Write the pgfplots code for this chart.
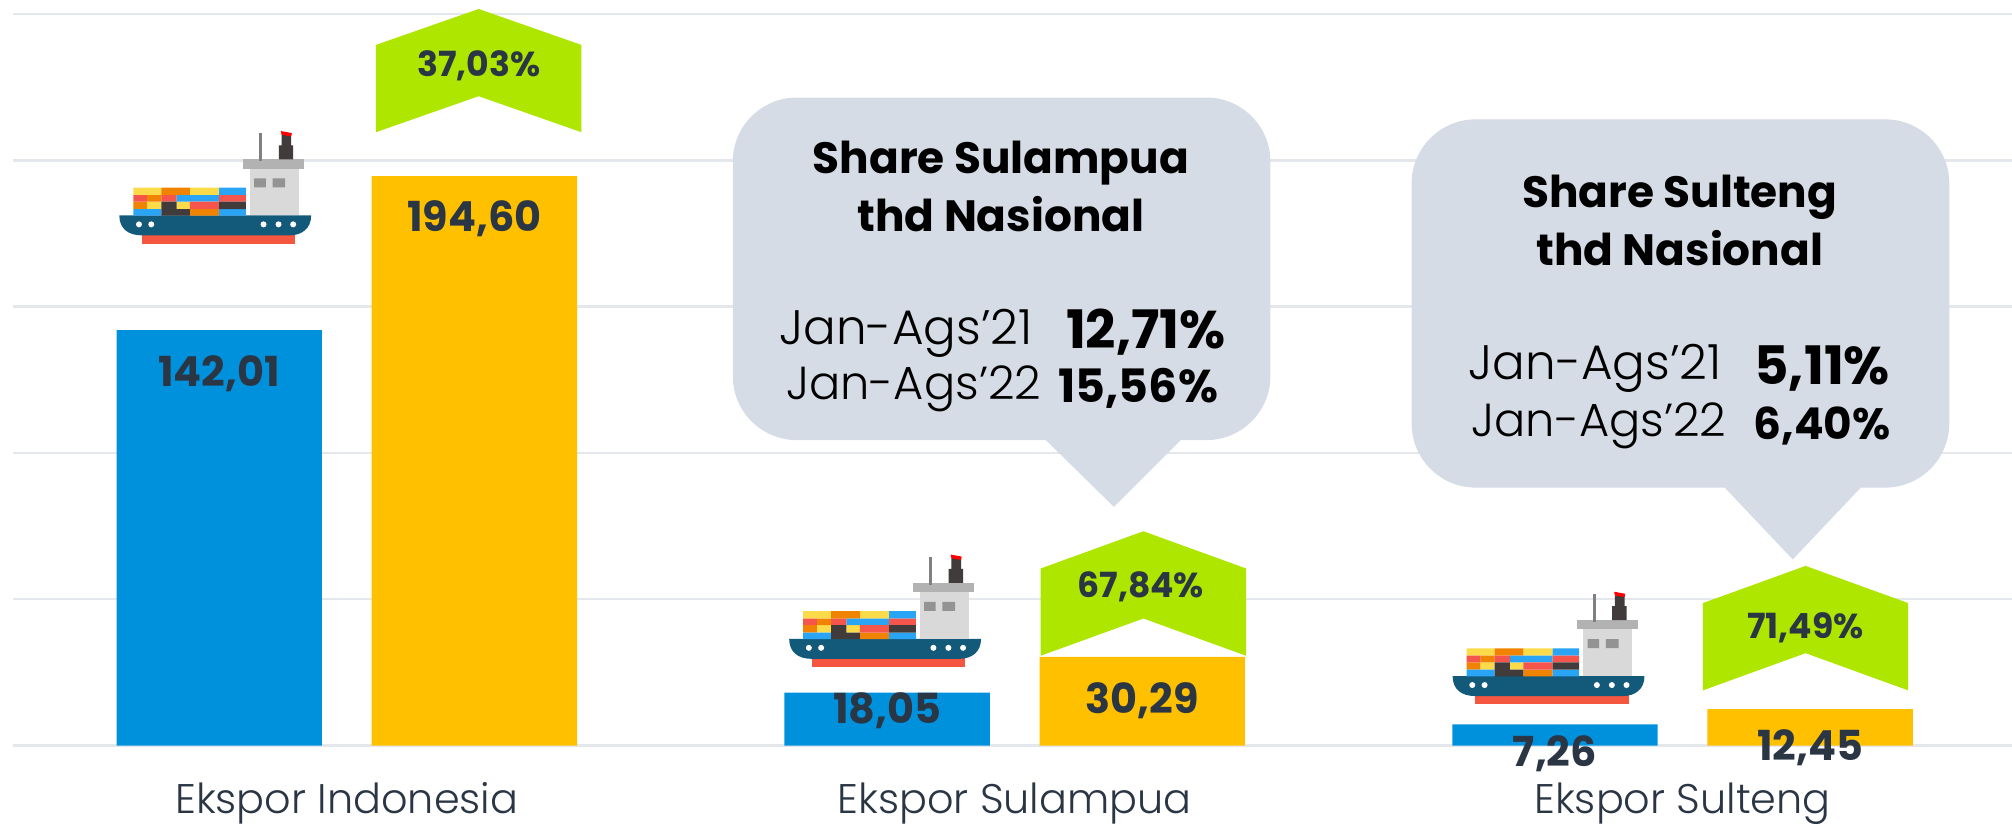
\documentclass[border=0pt]{standalone}
\usepackage{pgfplots}
\usepackage{pgfplotstable}
\usepackage{fontspec}
\setmainfont{Poppins}[UprightFont=* Light,BoldFont=* Bold]
\pgfplotsset{compat=1.18}
\definecolor{barblue}{HTML}{0091DD}
\definecolor{baryel}{HTML}{FFC000}
\definecolor{lime}{HTML}{AEE600}
\definecolor{callout}{HTML}{D6DCE5}
\definecolor{gridc}{HTML}{E4E7EC}
\definecolor{txt}{HTML}{2B3645}
\definecolor{hull}{HTML}{135A7A}
\definecolor{keel}{HTML}{F4563F}
\definecolor{cyel}{HTML}{FBDB4A}
\definecolor{corg}{HTML}{F08300}
\definecolor{cblu}{HTML}{2AA5F5}
\definecolor{cred}{HTML}{F5554A}
\definecolor{cdrk}{HTML}{413B3B}

\pgfplotstableread{
x y lab dy
0 142.01 142,01 -34
1 18.05 18,05 -14
2 7.26 7,26 -23
}\blueT
\pgfplotstableread{
x y lab dy
0 194.60 194,60 -33
1 30.29 30,29 -34
2 12.45 12,45 -30
}\yelT

\tikzset{px/.style={x=0.012755cm,y=-0.012755cm,yshift=8.2015cm}}

% ship drawn in its own units (y down), placed by hull left / keel bottom
\newcommand{\ship}[1]{%
\begin{scope}[shift={(#1)},x=0.003314cm,y=-0.003314cm,xshift=-0.391cm,yshift=1.425cm]
\fill[keel] (185,400) rectangle (646,430);
\fill[hull] (118,345) -- (694,345) .. controls (694,385) and (665,405) .. (630,405) -- (185,405) .. controls (145,405) and (118,385) .. (118,345) -- cycle;
\foreach \p in {177,214,551,596,640} \fill[white] (\p,372) circle (9);
\fill[gray!30] (510,205) rectangle (657,345);
\fill[gray!60] (490,177) rectangle (673,205);
\fill[gray!85] (523,234) rectangle (558,261) (578,234) rectangle (616,261);
\fill[gray] (538,98) rectangle (547,182);
\fill[cdrk] (597,135) rectangle (640,177) (605,103) rectangle (634,135);
\fill[red] (603,92) -- (636,98) -- (634,108) -- (605,103) -- cycle;
\fill[cyel] (160,262) rectangle (244,284) (330,262) rectangle (418,284) (201,304) rectangle (244,326) (290,304) rectangle (330,326);
\fill[corg] (244,262) rectangle (330,284) (201,284) rectangle (244,304) (160,304) rectangle (201,326) (330,326) rectangle (418,346);
\fill[cblu] (418,262) rectangle (498,284) (290,284) rectangle (418,304) (160,326) rectangle (244,346) (418,326) rectangle (498,346);
\fill[cred] (160,284) rectangle (201,304) (244,284) rectangle (290,304) (418,284) rectangle (498,304) (330,304) rectangle (418,326);
\fill[cdrk] (244,304) rectangle (290,326) (418,304) rectangle (498,326) (244,326) rectangle (330,346);
\end{scope}}

\begin{document}
\begin{tikzpicture}
\path[use as bounding box] (0,0) rectangle (20cm,8.2015cm);
\begin{axis}[
    at={(0.12755cm,0.7908cm)},
    anchor=south west,
    scale only axis,
    width=19.872cm,
    height=7.270cm,
    ybar,
    bar width=0.3075,
    xmin=-0.5, xmax=2.4933,
    ymin=0, ymax=250,
    ytick={0,50,100,150,200,250},
    yticklabels={},
    ymajorgrids,
    grid style={gridc, line width=0.7pt},
    xtick={0,1,2},
    xticklabels={Ekspor Indonesia,Ekspor Sulampua,Ekspor Sulteng},
    xticklabel style={font=\fontsize{11.7}{13}\selectfont, text=txt, anchor=base, yshift=-0.68cm},
    major tick length=0pt,
    tick label style={inner sep=0pt},
    axis line style={draw=none},
    clip=false,
    point meta=explicit symbolic,
    visualization depends on={\thisrow{dy} \as \dy},
    nodes near coords,
    nodes near coords style={font=\fontsize{11.7}{13}\selectfont\bfseries, text=txt, anchor=center, yshift=\dy*0.3616pt},
]
\addplot[fill=barblue, draw=none, bar shift=-0.191] table[x=x,y=y,meta=lab] {\blueT};
\addplot[fill=baryel, draw=none, bar shift=0.191] table[x=x,y=y,meta=lab] {\yelT};
\end{axis}

\begin{scope}[px]
% growth chevrons
\fill[lime] (293,35) -- (373,7) -- (453,35) -- (453,103) -- (373,75) -- (293,103) -- cycle;
\fill[lime] (811,443) -- (891,414) -- (971,443) -- (971,511) -- (891,482) -- (811,511) -- cycle;
\fill[lime] (1327,470) -- (1407,441) -- (1487,470) -- (1487,538) -- (1407,509) -- (1327,538) -- cycle;
\begin{scope}[every node/.style={font=\fontsize{9.8}{11}\selectfont\bfseries, text=txt}]
\node at (373,51) {37,03\%};
\node at (889,457) {67,84\%};
\node at (1407,489) {71,49\%};
\end{scope}
% callouts
\fill[callout] (621,76) -- (940,76) arc[start angle=-90,end angle=0,radius=50] -- (990,293) arc[start angle=0,end angle=90,radius=50] -- (920,343) -- (868,395) -- (815,343) -- (621,343) arc[start angle=90,end angle=180,radius=50] -- (571,126) arc[start angle=180,end angle=270,radius=50] -- cycle;
\fill[callout] (1150,93) -- (1469,93) arc[start angle=-90,end angle=0,radius=50] -- (1519,330) arc[start angle=0,end angle=90,radius=50] -- (1450,380) -- (1397,436) -- (1344,380) -- (1150,380) arc[start angle=90,end angle=180,radius=50] -- (1100,143) arc[start angle=180,end angle=270,radius=50] -- cycle;
\begin{scope}[every node/.style={font=\fontsize{12.4}{14}\selectfont\bfseries}]
\node at (780,127) {Share Sulampua};
\node at (780,167) {thd Nasional};
\node at (1309,154) {Share Sulteng};
\node at (1309,193) {thd Nasional};
\end{scope}
\node[font=\fontsize{15}{16}\selectfont\bfseries] at (893,259) {12,71\%};
\node[font=\fontsize{13}{16}\selectfont\bfseries] at (887,303) {15,56\%};
\node[font=\fontsize{15}{16}\selectfont\bfseries] at (1420,287) {5,11\%};
\node[font=\fontsize{12.4}{16}\selectfont\bfseries] at (1420,332) {6,40\%};
\node[font=\fontsize{13.7}{16}\selectfont] at (706,260) {Jan-Ags’21};
\node[font=\fontsize{13.1}{16}\selectfont] at (712,303) {Jan-Ags’22};
\node[font=\fontsize{13.7}{16}\selectfont] at (1243,287) {Jan-Ags’21};
\node[font=\fontsize{13.1}{16}\selectfont] at (1246,332) {Jan-Ags’22};
\coordinate (s1) at (93,190);
\coordinate (s2) at (615,520);
\coordinate (s3) at (1132,549);
\end{scope}
\ship{s1}
\ship{s2}
\ship{s3}
\end{tikzpicture}
\end{document}
